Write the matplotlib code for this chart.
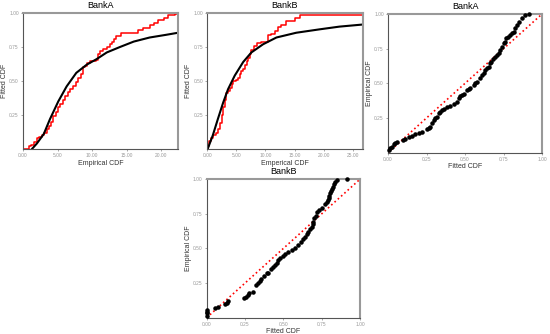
import matplotlib
matplotlib.use('Agg')
import matplotlib.pyplot as plt

plt.rcParams['font.family'] = ['Liberation Sans', 'DejaVu Sans']

# ECDF steps (jump position, level after the jump)
bank_a_ecdf_x = [0.8, 1.2, 1.6, 2.0, 2.3, 2.7, 3.0, 3.4, 3.7, 4.1, 4.4, 4.7, 5.0, 5.4, 5.8, 6.1,
                 6.5, 6.8, 7.2, 7.6, 8.0, 8.4, 8.6, 8.9, 9.3, 9.7, 10.1, 10.5, 10.8, 11.1, 11.6,
                 12.1, 12.5, 12.8, 13.1, 13.4, 14.2, 16.6, 17.4, 18.3, 18.9, 19.5, 20.3, 20.9,
                 21.9, 22.3]
bank_a_ecdf_y = [0.02, 0.03, 0.05, 0.08, 0.09, 0.10, 0.12, 0.15, 0.17, 0.20, 0.24, 0.27, 0.31,
                 0.33, 0.36, 0.39, 0.42, 0.44, 0.46, 0.49, 0.52, 0.55, 0.60, 0.61, 0.63, 0.645,
                 0.65, 0.655, 0.70, 0.72, 0.735, 0.75, 0.77, 0.79, 0.81, 0.83, 0.85, 0.875, 0.89,
                 0.91, 0.93, 0.95, 0.965, 0.985, 0.995, 1.0]

bank_b_ecdf_x = [0.1, 0.4, 0.7, 1.0, 1.6, 1.9, 2.2, 2.5, 2.75, 3.0, 3.3, 3.6, 3.9, 4.2, 4.5, 5.0,
                 5.3, 5.6, 5.9, 6.2, 6.5, 6.8, 7.0, 7.3, 7.6, 8.0, 8.5, 9.3, 10.5, 11.0, 11.6,
                 12.2, 12.6, 13.6, 15.0, 15.9, 26.7]
bank_b_ecdf_y = [0.02, 0.06, 0.08, 0.105, 0.115, 0.15, 0.19, 0.25, 0.31, 0.36, 0.41, 0.43, 0.45,
                 0.48, 0.50, 0.51, 0.52, 0.55, 0.57, 0.59, 0.62, 0.645, 0.67, 0.70, 0.73, 0.755,
                 0.78, 0.79, 0.84, 0.845, 0.865, 0.90, 0.915, 0.94, 0.963, 0.987, 0.987]

# fitted CDF curves
bank_a_fit_x = [1.3, 2.0, 3.0, 3.9, 5.1, 6.3, 7.7, 9.2, 10.6, 12.1, 14.0, 16.0, 18.3, 20.7, 22.4]
bank_a_fit_y = [0.0, 0.04, 0.11, 0.22, 0.35, 0.46, 0.56, 0.62, 0.66, 0.71, 0.75, 0.79, 0.82, 0.84, 0.855]

bank_b_fit_x = [0.1, 0.98, 1.85, 2.75, 3.6, 4.75, 6.2, 7.6, 9.6, 11.9, 15.3, 19.3, 22.7, 26.6]
bank_b_fit_y = [0.0, 0.10, 0.22, 0.34, 0.44, 0.54, 0.64, 0.71, 0.77, 0.82, 0.855, 0.88, 0.90, 0.915]

# P-P plot points (fitted CDF, empirical CDF)
bank_a_pp_x = [0.004, 0.015, 0.026, 0.036, 0.047, 0.058, 0.10, 0.112, 0.134, 0.156, 0.177, 0.199,
               0.22, 0.253, 0.264, 0.275, 0.286, 0.296, 0.307, 0.318, 0.329, 0.34, 0.35, 0.361,
               0.383, 0.405, 0.426, 0.448, 0.459, 0.469, 0.48, 0.491, 0.513, 0.523, 0.534, 0.556,
               0.567, 0.578, 0.60, 0.61, 0.621, 0.632, 0.643, 0.653, 0.664, 0.671, 0.679, 0.692,
               0.708, 0.718, 0.729, 0.74, 0.751, 0.757, 0.766, 0.779, 0.794, 0.805, 0.816, 0.827,
               0.838, 0.848, 0.87, 0.892, 0.913]
bank_a_pp_y = [0.02, 0.03, 0.043, 0.063, 0.072, 0.079, 0.092, 0.096, 0.11, 0.12, 0.133, 0.144,
               0.151, 0.168, 0.176, 0.187, 0.212, 0.236, 0.248, 0.26, 0.284, 0.296, 0.308, 0.313,
               0.327, 0.337, 0.351, 0.365, 0.392, 0.409, 0.416, 0.423, 0.452, 0.459, 0.464, 0.488,
               0.50, 0.512, 0.536, 0.56, 0.572, 0.596, 0.608, 0.62, 0.644, 0.656, 0.673, 0.692,
               0.704, 0.721, 0.74, 0.764, 0.789, 0.80, 0.825, 0.836, 0.849, 0.861, 0.872, 0.897,
               0.921, 0.945, 0.969, 0.993, 1.0]

bank_b_pp_x = [0.0, 0.0, 0.0, 0.0, 0.054, 0.076, 0.119, 0.13, 0.141, 0.245, 0.254, 0.267, 0.278,
               0.304, 0.32, 0.337, 0.348, 0.354, 0.376, 0.391, 0.402, 0.419, 0.43, 0.446, 0.457,
               0.467, 0.478, 0.50, 0.511, 0.532, 0.554, 0.576, 0.598, 0.613, 0.63, 0.641, 0.652,
               0.663, 0.674, 0.685, 0.691, 0.696, 0.702, 0.713, 0.722, 0.735, 0.75, 0.772, 0.783,
               0.789, 0.796, 0.80, 0.804, 0.811, 0.815, 0.822, 0.83, 0.837, 0.848, 0.913]
bank_b_pp_y = [0.015, 0.032, 0.043, 0.056, 0.068, 0.075, 0.099, 0.108, 0.12, 0.14, 0.151, 0.164,
               0.176, 0.187, 0.236, 0.248, 0.267, 0.277, 0.30, 0.32, 0.324, 0.349, 0.363, 0.38,
               0.397, 0.416, 0.428, 0.445, 0.456, 0.471, 0.488, 0.505, 0.524, 0.548, 0.567, 0.584,
               0.601, 0.62, 0.637, 0.656, 0.673, 0.692, 0.716, 0.735, 0.76, 0.776, 0.789, 0.817,
               0.836, 0.849, 0.861, 0.88, 0.897, 0.914, 0.928, 0.945, 0.962, 0.981, 0.993, 0.998]

unit_ticks = [0.0, 0.25, 0.5, 0.75, 1.0]
cdf_yticks = [0.25, 0.5, 0.75, 1.0]


def style_axes(ax, title, xlabel, ylabel, xticks, yticks):
    ax.set_title(title, fontsize=6.5, pad=3.5)
    ax.set_xlabel(xlabel, fontsize=5, labelpad=1, color='#333333')
    ax.set_ylabel(ylabel, fontsize=5, labelpad=1, color='#333333')
    ax.set_xticks(xticks)
    ax.set_xticklabels(['%.2f' % t for t in xticks])
    ax.set_yticks(yticks)
    ax.set_yticklabels(['%.2f' % t for t in yticks])
    ax.tick_params(labelsize=3.5, colors='#999999', length=1.5, width=0.6, pad=1.5)
    for side in ('top', 'right'):
        ax.spines[side].set_color('#999999')
        ax.spines[side].set_linewidth(1.5)
    for side in ('left', 'bottom'):
        ax.spines[side].set_color('#555555')
        ax.spines[side].set_linewidth(0.8)


def draw_cdf(ax, ecdf_x, ecdf_y, fit_x, fit_y, xmax):
    ax.step([0] + ecdf_x, [0] + ecdf_y, where='post', color='red', lw=1.1)
    ax.plot(fit_x, fit_y, color='black', lw=1.5)
    ax.set_xlim(0, xmax)
    ax.set_ylim(0, 1.0)


def draw_pp(ax, pp_x, pp_y):
    ax.plot([0, 1], [0, 1], color='red', ls=':', lw=1.2)
    ax.scatter(pp_x, pp_y, s=5, color='black', zorder=3, clip_on=False)
    ax.set_xlim(0, 1)
    ax.set_ylim(0, 1)


fig = plt.figure(figsize=(5.5, 3.34), dpi=100)

ax1 = fig.add_axes([0.0418, 0.554, 0.282, 0.407])
draw_cdf(ax1, bank_a_ecdf_x, bank_a_ecdf_y, bank_a_fit_x, bank_a_fit_y, 22.4)
style_axes(ax1, 'BankA', 'Empirical CDF', 'Fitted CDF', [0, 5, 10, 15, 20], cdf_yticks)

ax2 = fig.add_axes([0.3765, 0.554, 0.283, 0.407])
draw_cdf(ax2, bank_b_ecdf_x, bank_b_ecdf_y, bank_b_fit_x, bank_b_fit_y, 26.7)
style_axes(ax2, 'BankB', 'Emperical CDF', 'Fitted CDF', [0, 5, 10, 15, 20, 25], cdf_yticks)

ax3 = fig.add_axes([0.7055, 0.543, 0.28, 0.415])
draw_pp(ax3, bank_a_pp_x, bank_a_pp_y)
style_axes(ax3, 'BankA', 'Fitted CDF', 'Empirical CDF', unit_ticks, cdf_yticks)

ax4 = fig.add_axes([0.3758, 0.0488, 0.279, 0.415])
draw_pp(ax4, bank_b_pp_x, bank_b_pp_y)
style_axes(ax4, 'BankB', 'Fitted CDF', 'Empirical CDF', unit_ticks, cdf_yticks)

plt.savefig('out.png', dpi=100)
plt.close()
